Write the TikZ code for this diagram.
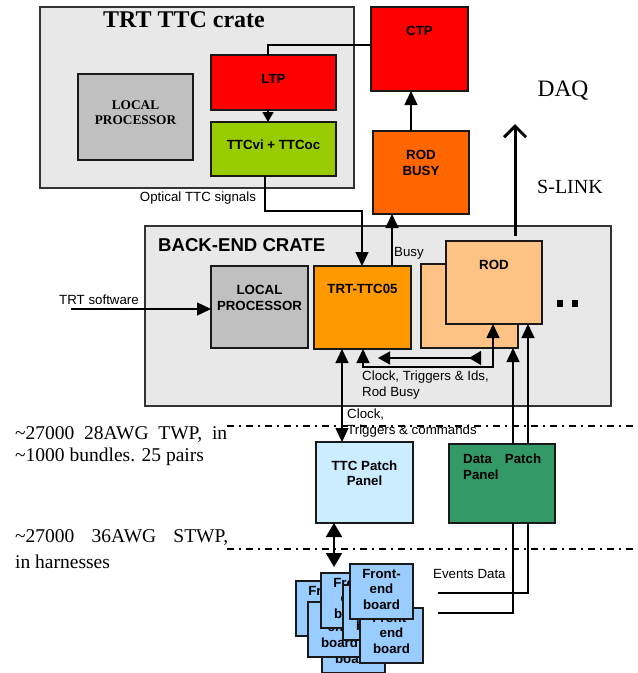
\documentclass[tikz,border=0pt]{standalone}
\usepackage{fontspec}
\setmainfont{Liberation Serif}
\setsansfont{Liberation Sans}
\usetikzlibrary{arrows.meta,calc}
\definecolor{crategray}{HTML}{E8E8E8}
\definecolor{lpgray}{HTML}{C0C0C0}
\definecolor{ltpred}{HTML}{FF0000}
\definecolor{ttcgreen}{HTML}{99CC00}
\definecolor{busyorange}{HTML}{FF6600}
\definecolor{ttcorange}{HTML}{FF9900}
\definecolor{rodpeach}{HTML}{FFC285}
\definecolor{ppblue}{HTML}{CCECFF}
\definecolor{dppgreen}{HTML}{339966}
\definecolor{feblue}{HTML}{99CCFF}
\newcommand\fsm{\fontsize{13.3}{15.5}\selectfont}
\begin{document}
\begin{tikzpicture}[x=1pt,y=-1pt,
  box/.style={draw=black!90, line width=1.7pt, rectangle, inner sep=0pt, outer sep=0pt},
  crate/.style={draw=black!80, line width=1.4pt, fill=crategray, rectangle, inner sep=0pt, outer sep=0pt},
  blbl/.style={font=\sffamily\bfseries\fsm, align=center, inner sep=0pt},
  slbl/.style={font=\sffamily\fsm, align=left, inner sep=0pt},
  serlbl/.style={font=\fontsize{19.5}{23}\selectfont, inner sep=0pt},
  conn/.style={line width=1.4pt},
  >={Triangle[length=14pt,width=13pt]},
  dashdot/.style={line width=1.5pt, dash pattern=on 7pt off 5pt on 2pt off 5pt}
]
\useasboundingbox (0,0) rectangle (638,673);
\clip (0,0) rectangle (638,673);

% ---------- TRT TTC crate ----------
\node[crate, minimum width=314pt, minimum height=181pt] (crateA) at (197,97.5) {};
\node[font=\bfseries\fontsize{24}{28}\selectfont, inner sep=0pt] (crateAt) at (184,20) {TRT TTC crate};
\node[box, fill=lpgray, minimum width=115pt, minimum height=86pt] (lpA) at (135.5,117) {};
\node[font=\bfseries\fsm, align=center, inner sep=0pt] (lpAt) at (135.5,112.5) {LOCAL\\PROCESSOR};
\node[box, fill=ltpred, minimum width=125pt, minimum height=55pt] (ltp) at (273.5,82.5) {};
\node[blbl] (ltpt) at (273.5,79) {LTP};
\node[box, fill=ttcgreen, minimum width=125pt, minimum height=54pt] (ttcvi) at (273.5,149) {};
\node[blbl] (ttcvit) at (273.5,145) {TTCvi + TTCoc};
\node[slbl] (optt) at (198,198) {Optical TTC signals};

% ---------- CTP / ROD BUSY ----------
\node[box, fill=ltpred, minimum width=97pt, minimum height=84pt] (ctp) at (419.5,49) {};
\node[blbl] (ctpt) at (419.5,31) {CTP};
\node[box, fill=busyorange, minimum width=96pt, minimum height=83pt] (rodbusy) at (421,172.5) {};
\node[blbl] (rodbusyt) at (421,163) {ROD\\BUSY};

\node[serlbl, font=\fontsize{23.5}{26}\selectfont] (daq) at (563,91) {DAQ};
\node[serlbl, font=\fontsize{20}{24}\selectfont] (slink) at (570,187) {S-LINK};

% ---------- BACK-END CRATE ----------
\node[crate, minimum width=466pt, minimum height=180pt] (crateB) at (378,316) {};
\node[font=\sffamily\bfseries\fontsize{18.6}{22}\selectfont, inner sep=0pt, anchor=west] (crateBt) at (158,245) {BACK-END CRATE};
\node[box, fill=lpgray, minimum width=97pt, minimum height=82pt] (lpB) at (259.5,307) {};
\node[blbl] (lpBt) at (259.5,298) {LOCAL\\PROCESSOR};
\node[box, fill=ttcorange, minimum width=97pt, minimum height=83pt] (ttc05) at (362.5,307.5) {};
\node[blbl] (ttc05t) at (362.5,289) {TRT-TTC05};
\node[box, fill=rodpeach, minimum width=97pt, minimum height=84pt] (rodback) at (469.5,306) {};
\node[box, fill=rodpeach, minimum width=96pt, minimum height=83pt] (rod) at (494,282.5) {};
\node[blbl] (rodt) at (494,265) {ROD};
\fill[black] (557,300) rectangle (563,307);
\fill[black] (572,300) rectangle (578,307);
\node[slbl, anchor=west] (busyt) at (394,253) {Busy};
\node[slbl] (swt) at (99,300) {TRT software};
\node[slbl, anchor=west] (clkt) at (362,385) {Clock, Triggers \& Ids,\\Rod Busy};

% ---------- dash-dot separators ----------
\draw[dashdot] (227,426) -- (638,426);
\draw[dashdot] (227,549) -- (638,549);

% ---------- left notes ----------
\node[serlbl, anchor=west] (n1) at (15,435) {\hbox to 212pt{\textasciitilde 27000\hfill 28AWG\hfill TWP,\hfill in}};
\node[serlbl, anchor=west] (n2) at (15,457) {\textasciitilde 1000 bundles. 25 pairs};
\node[serlbl, anchor=west] (n3) at (15,538) {\hbox to 213pt{\textasciitilde 27000\hfill 36AWG\hfill STWP,}};
\node[serlbl, anchor=west] (n4) at (15,562) {in harnesses};

% ---------- patch panels ----------
\node[box, fill=ppblue, minimum width=97pt, minimum height=81pt] (ttcpp) at (364.5,482.5) {};
\node[blbl] (ttcppt) at (364.5,473) {TTC Patch\\Panel};
\node[box, fill=dppgreen, minimum width=106pt, minimum height=79pt] (dpp) at (502,483.5) {};
\node[blbl, anchor=west] (dppt1) at (463,459) {\hbox to 78pt{Data\hfill Patch}};
\node[blbl, anchor=west] (dppt2) at (463,475) {Panel};
\node[slbl, anchor=west] (clk2t) at (347,423) {Clock,\\Triggers \& commands};
\node[slbl, anchor=west] (evt) at (433,574) {Events Data};

% ---------- connectors ----------
\coordinate (xa) at (268,45);
\draw[conn,->,>={Triangle[length=10pt,width=11pt]}] (ltp.south -| xa) -- (ttcvi.north -| xa);
\draw[conn] (ltp.north -| xa) -- (xa) -- (xa -| ctp.west);
\coordinate (xb) at (411,0);
\draw[conn,->] (rodbusy.north -| xb) -- (ctp.south -| xb);
\coordinate (opt1) at (265,211);
\coordinate (opt2) at (362,211);
\draw[conn,->] (ttcvi.south -| opt1) -- (opt1) -- (opt2) -- (ttc05.north -| opt2);
\coordinate (bx) at (392,0);
\draw[conn,->] (ttc05.north -| bx) -- (rodbusy.south -| bx);
\coordinate (dx) at (515,0);
\coordinate (daqtip) at (515,124);
\draw[line width=3pt, -{Straight Barb[length=11pt,width=22pt]}, shorten <=5pt] (rod.north -| dx) -- (daqtip);
\coordinate (sw) at (71,309);
\draw[conn,->] (sw) -- (sw -| lpB.west);
\coordinate (vx) at (342,0);
\draw[conn,<->] (ttc05.south -| vx) -- (ttcpp.north -| vx);
\coordinate (c1) at (363,367);
\coordinate (c2) at (493,367);
\draw[conn,<->] (ttc05.south -| c1) -- (c1) -- (c2) -- (rod.south -| c2);
\coordinate (d1) at (378,358);
\coordinate (d2) at (481,358);
\draw[conn,{Triangle[length=12pt,width=13pt]}-{Triangle[reversed,length=12pt,width=14pt]}] (d1) -- (d2);
\coordinate (e1) at (513,613);
\coordinate (e2) at (438,613);
\draw[conn,->] (dpp.north -| e1) -- (rodback.south -| e1);
\draw[conn] (dpp.south -| e1) -- (e1) -- (e2);
\coordinate (f1) at (528,593);
\coordinate (f2) at (438,593);
\draw[conn,->] (dpp.north -| f1) -- (rod.south -| f1);
\draw[conn] (dpp.south -| f1) -- (f1) -- (f2);
\coordinate (gx) at (334,567);
\draw[line width=2pt,{Triangle[length=14pt,width=16pt]}-{Triangle[length=14pt,width=16pt]}] (ttcpp.south -| gx) -- (gx);

% ---------- front-end boards ----------
\foreach \n/\px/\py in {bA/296/581, bD/322/618, bC/308/602, bB/321/573, bE/343/585, bF/360/608, bG/350/564}{
  \node[box, fill=feblue, minimum width=63pt, minimum height=55pt, anchor=north west] (\n) at (\px,\py) {};
  \node[blbl, anchor=north] (\n t) at ($(\n.north)+(0,5)$) {Front-\\end\\board};
}
\end{tikzpicture}
\end{document}
